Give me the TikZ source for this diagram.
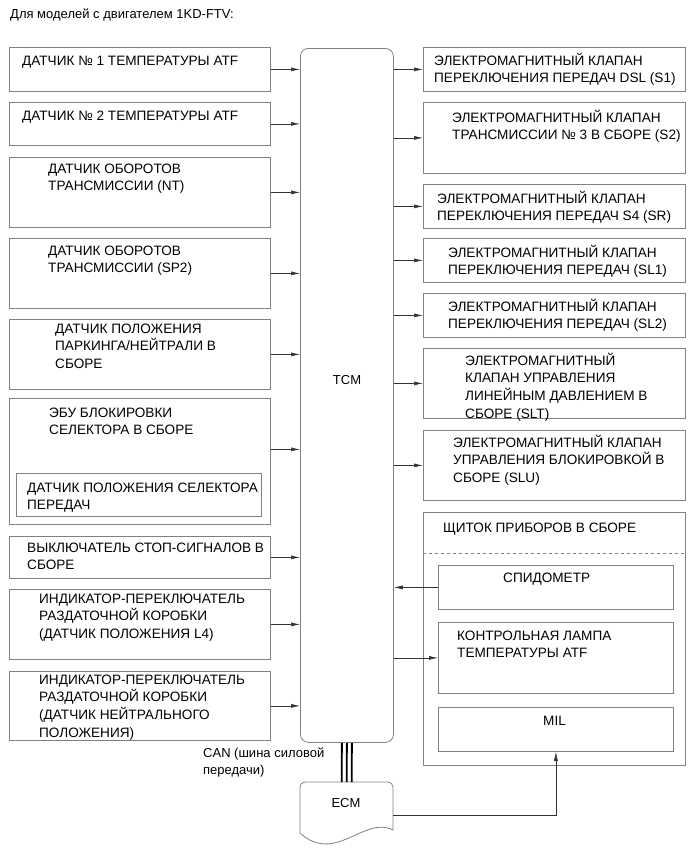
\documentclass[tikz,border=0pt]{standalone}
\usepackage{fontspec}
\setmainfont{Liberation Sans}
\usetikzlibrary{arrows.meta}

\newcommand{\lines}[1]{\begin{tabular}[t]{@{}l@{}}#1\end{tabular}}

\tikzset{
  blk/.style={draw=black!50, line width=0.8pt, anchor=north west, inner sep=0pt},
  lbl/.style={anchor=base west, inner sep=0pt, font=\fontsize{13.6}{17.7}\selectfont},
  sig/.style={draw=black!80, line width=0.6pt, -{Latex[length=9pt,width=4pt]}},
  bus/.style={line width=1.8pt}
}

\begin{document}
\begin{tikzpicture}[x=1pt,y=-1pt]
\useasboundingbox (0,0) rectangle (691,855);
\node[lbl, font=\fontsize{13}{17}\selectfont] (title) at (10,18) {Для моделей с двигателем 1KD-FTV:};
% TCM and ECM
\node[blk, rounded corners=8pt, minimum width=93pt, minimum height=694pt] (tcm) at (300,48) {};
\node[lbl, anchor=center, font=\fontsize{13}{17}\selectfont] (tcmt) at (347,380) {TCM};
\node[anchor=north west, inner sep=0pt, minimum width=93pt, minimum height=66pt] (ecm) at (300,782) {};
\draw[draw=black!50, line width=0.8pt] (300,833) [rounded corners=5pt] -- (300,782) -- (393,782) [sharp corners] -- (393,830)
  .. controls (365,815) and (335,865) .. (300,833);
\node[lbl, anchor=center, font=\fontsize{13}{17}\selectfont] (ecmt) at (346,803) {ECM};
\foreach \dx in {-5,0,5}
  \draw[bus] ([xshift=\dx pt]tcm.south) -- ([xshift=\dx pt]ecm.north);
\node[lbl, font=\fontsize{13}{17}\selectfont] (canl) at (203,757) {\lines{CAN (шина силовой\\передачи)}};
% inputs
\node[blk, minimum width=261pt, minimum height=44pt] (in1) at (9,47) {};
\node[blk, minimum width=261pt, minimum height=43pt] (in2) at (9,102) {};
\node[blk, minimum width=261pt, minimum height=70pt] (in3) at (9,157) {};
\node[blk, minimum width=261pt, minimum height=70pt] (in4) at (9,238) {};
\node[blk, minimum width=261pt, minimum height=70pt] (in5) at (9,319) {};
\node[blk, minimum width=261pt, minimum height=126pt] (in6) at (9,398) {};
\node[blk, minimum width=245pt, minimum height=43pt] (in6s) at (16,473) {};
\node[blk, minimum width=261pt, minimum height=42pt] (in7) at (9,536) {};
\node[blk, minimum width=261pt, minimum height=70pt] (in8) at (9,589) {};
\node[blk, minimum width=261pt, minimum height=69pt] (in9) at (9,671) {};
\node[lbl] (in1t) at (22,65) {ДАТЧИК № 1 ТЕМПЕРАТУРЫ ATF};
\node[lbl] (in2t) at (22,120) {ДАТЧИК № 2 ТЕМПЕРАТУРЫ ATF};
\node[lbl] (in3t) at (48,173) {\lines{ДАТЧИК ОБОРОТОВ\\ТРАНСМИССИИ (NT)}};
\node[lbl] (in4t) at (48,255) {\lines{ДАТЧИК ОБОРОТОВ\\ТРАНСМИССИИ (SP2)}};
\node[lbl] (in5t) at (55,333) {\lines{ДАТЧИК ПОЛОЖЕНИЯ\\ПАРКИНГА/НЕЙТРАЛИ В\\СБОРЕ}};
\node[lbl] (in6t) at (49,417) {\lines{ЭБУ БЛОКИРОВКИ\\СЕЛЕКТОРА В СБОРЕ}};
\node[lbl] (in6st) at (27,492) {\lines{ДАТЧИК ПОЛОЖЕНИЯ СЕЛЕКТОРА\\ПЕРЕДАЧ}};
\node[lbl] (in7t) at (27,552) {\lines{ВЫКЛЮЧАТЕЛЬ СТОП-СИГНАЛОВ В\\СБОРЕ}};
\node[lbl] (in8t) at (39,603) {\lines{ИНДИКАТОР-ПЕРЕКЛЮЧАТЕЛЬ\\РАЗДАТОЧНОЙ КОРОБКИ\\(ДАТЧИК ПОЛОЖЕНИЯ L4)}};
\node[lbl] (in9t) at (39,684) {\lines{ИНДИКАТОР-ПЕРЕКЛЮЧАТЕЛЬ\\РАЗДАТОЧНОЙ КОРОБКИ\\(ДАТЧИК НЕЙТРАЛЬНОГО\\ПОЛОЖЕНИЯ)}};
% outputs
\node[blk, minimum width=262pt, minimum height=44pt] (out1) at (423,47) {};
\node[blk, minimum width=262pt, minimum height=71pt] (out2) at (423,102) {};
\node[blk, minimum width=262pt, minimum height=44pt] (out3) at (423,184) {};
\node[blk, minimum width=262pt, minimum height=44pt] (out4) at (423,238) {};
\node[blk, minimum width=262pt, minimum height=44pt] (out5) at (423,293) {};
\node[blk, minimum width=262pt, minimum height=70pt] (out6) at (423,348) {};
\node[blk, minimum width=262pt, minimum height=70pt] (out7) at (423,430) {};
\node[lbl] (out1t) at (434,65) {\lines{ЭЛЕКТРОМАГНИТНЫЙ КЛАПАН\\ПЕРЕКЛЮЧЕНИЯ ПЕРЕДАЧ DSL (S1)}};
\node[lbl] (out2t) at (452,122) {\lines{ЭЛЕКТРОМАГНИТНЫЙ КЛАПАН\\ТРАНСМИССИИ № 3 В СБОРЕ (S2)}};
\node[lbl] (out3t) at (437,203) {\lines{ЭЛЕКТРОМАГНИТНЫЙ КЛАПАН\\ПЕРЕКЛЮЧЕНИЯ ПЕРЕДАЧ S4 (SR)}};
\node[lbl] (out4t) at (448,257) {\lines{ЭЛЕКТРОМАГНИТНЫЙ КЛАПАН\\ПЕРЕКЛЮЧЕНИЯ ПЕРЕДАЧ (SL1)}};
\node[lbl] (out5t) at (448,311) {\lines{ЭЛЕКТРОМАГНИТНЫЙ КЛАПАН\\ПЕРЕКЛЮЧЕНИЯ ПЕРЕДАЧ (SL2)}};
\node[lbl] (out6t) at (465,365) {\lines{ЭЛЕКТРОМАГНИТНЫЙ\\КЛАПАН УПРАВЛЕНИЯ\\ЛИНЕЙНЫМ ДАВЛЕНИЕМ В\\СБОРЕ (SLT)}};
\node[lbl] (out7t) at (453,447) {\lines{ЭЛЕКТРОМАГНИТНЫЙ КЛАПАН\\УПРАВЛЕНИЯ БЛОКИРОВКОЙ В\\СБОРЕ (SLU)}};
% instrument cluster
\node[blk, minimum width=262pt, minimum height=253pt] (clu) at (423,512) {};
\draw[draw=black!50, line width=0.8pt, dashed] ([yshift=-41pt]clu.north west) -- ([yshift=-41pt]clu.north east);
\node[blk, minimum width=235pt, minimum height=44pt] (spd) at (438,565) {};
\node[blk, minimum width=235pt, minimum height=71pt] (lamp) at (438,622) {};
\node[blk, minimum width=235pt, minimum height=44pt] (mil) at (438,707) {};
\node[lbl] (clut) at (443,532) {ЩИТОК ПРИБОРОВ В СБОРЕ};
\node[lbl] (spdt) at (503,582) {СПИДОМЕТР};
\node[lbl] (lampt) at (457,640) {\lines{КОНТРОЛЬНАЯ ЛАМПА\\ТЕМПЕРАТУРЫ ATF}};
\node[lbl] (milt) at (543,725) {MIL};
% signals
\draw[sig] (in1.east) -- (in1.east -| tcm.west);
\draw[sig] (in2.east) -- (in2.east -| tcm.west);
\draw[sig] (in3.east) -- (in3.east -| tcm.west);
\draw[sig] (in4.east) -- (in4.east -| tcm.west);
\draw[sig] (in5.east) -- (in5.east -| tcm.west);
\draw[sig] ([yshift=12pt]in6.east) -- ([yshift=12pt]in6.east -| tcm.west);
\draw[sig] (in7.east) -- (in7.east -| tcm.west);
\draw[sig] (in8.east) -- (in8.east -| tcm.west);
\draw[sig] (in9.east) -- (in9.east -| tcm.west);
\draw[sig] (tcm.east |- out1.west) -- (out1.west);
\draw[sig] (tcm.east |- out2.west) -- (out2.west);
\draw[sig] (tcm.east |- out3.west) -- (out3.west);
\draw[sig] (tcm.east |- out4.west) -- (out4.west);
\draw[sig] (tcm.east |- out5.west) -- (out5.west);
\draw[sig] (tcm.east |- out6.west) -- (out6.west);
\draw[sig] (tcm.east |- out7.west) -- (out7.west);
\draw[sig] (spd.west) -- (spd.west -| tcm.east);
\draw[sig] (tcm.east |- lamp.west) -- (lamp.west);
\draw[sig] (ecm.east) -| (mil.south);
\end{tikzpicture}
\end{document}
